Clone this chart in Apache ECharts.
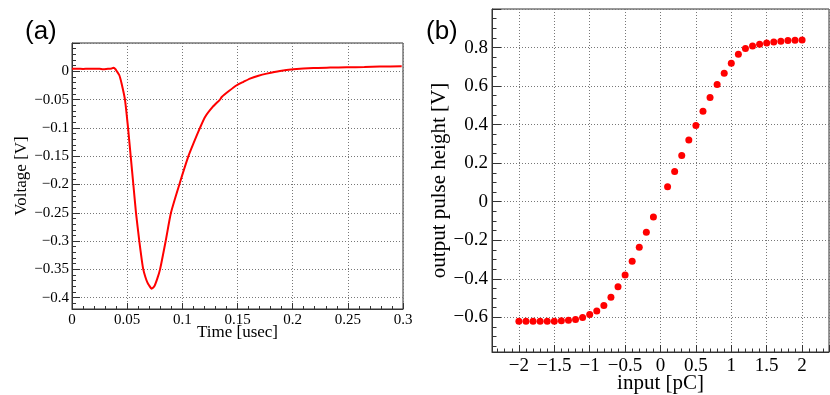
<!DOCTYPE html>
<html>
<head>
<meta charset="utf-8">
<script src="https://cdn.jsdelivr.net/npm/echarts@6/dist/echarts.min.js"></script>
<style>
  html, body { margin: 0; padding: 0; background: #fff; }
  #chart { width: 830px; height: 395px; }
</style>
</head>
<body>
<div id="chart"></div>
<script>
// (a) pulse waveform
const timeUs = [
  0, 0.005, 0.01, 0.015, 0.02, 0.025, 0.028, 0.031, 0.034, 0.036, 0.0375, 0.039,
  0.0405, 0.0429, 0.045, 0.048, 0.0508, 0.0532, 0.0556, 0.058, 0.061, 0.0632, 0.0646,
  0.0665, 0.0683, 0.0698, 0.0722, 0.0746, 0.0773, 0.0798, 0.0849, 0.0897, 0.0973,
  0.1055, 0.110, 0.116, 0.1206, 0.1275, 0.1341, 0.1357, 0.1425, 0.1493, 0.1555,
  0.1613, 0.169, 0.1765, 0.1885, 0.2006, 0.2187, 0.234, 0.249, 0.265, 0.279, 0.2988
];
const voltage = [
  0.0045, 0.0046, 0.0042, 0.0047, 0.0044, 0.0046, 0.0038, 0.0041, 0.0046, 0.0048, 0.0062, 0.0045,
  0.0005, -0.007, -0.022, -0.05, -0.1, -0.15, -0.2, -0.25, -0.3, -0.3327, -0.35,
  -0.3634, -0.373, -0.378, -0.384, -0.380, -0.3664, -0.35, -0.3, -0.25, -0.2,
  -0.15, -0.1278, -0.1, -0.0807, -0.063, -0.05, -0.0454, -0.0345, -0.0247, -0.0185,
  -0.0129, -0.0078, -0.0041, 0.0006, 0.0035, 0.0059, 0.0065, 0.007, 0.0076, 0.0083, 0.0089
];

// (b) output pulse height vs input charge
const inputPC = [
  -2, -1.9, -1.8, -1.7, -1.6, -1.5, -1.4, -1.3, -1.2, -1.1,
  -1, -0.9, -0.8, -0.7, -0.6, -0.5, -0.4, -0.3, -0.2, -0.1,
  0.1, 0.2, 0.3, 0.4, 0.5, 0.6, 0.7, 0.8, 0.9, 1,
  1.1, 1.2, 1.3, 1.4, 1.5, 1.6, 1.7, 1.8, 1.9, 2
];
const pulseHeight = [
  -0.620, -0.620, -0.620, -0.620, -0.620, -0.620, -0.618, -0.615, -0.611, -0.601,
  -0.585, -0.567, -0.539, -0.496, -0.442, -0.380, -0.309, -0.237, -0.159, -0.079,
  0.078, 0.157, 0.240, 0.320, 0.396, 0.470, 0.541, 0.608, 0.667, 0.719,
  0.765, 0.795, 0.808, 0.817, 0.824, 0.829, 0.832, 0.836, 0.838, 0.839
];

const serif = 'Liberation Serif';
const minus = v => String(v).replace('-', '\u2212');

function axisStyle(fontSize, margin, tickLen, minorSplit) {
  return {
    axisLine: { show: true, onZero: false, lineStyle: { color: '#333', width: 1 } },
    axisTick: { show: true, inside: true, length: tickLen, lineStyle: { color: '#333' } },
    minorTick: { show: true, splitNumber: minorSplit, length: tickLen / 2, lineStyle: { color: '#333' } },
    splitLine: { show: true, lineStyle: { color: '#777', type: [1, 2], width: 1 } },
    axisLabel: { color: '#000', fontFamily: serif, fontSize: fontSize, margin: margin, formatter: minus }
  };
}

const chart = echarts.init(document.getElementById('chart'), null, { renderer: 'canvas' });

const xa = axisStyle(15, 4, 6, 5);
const ya = axisStyle(15, 3, 8, 5);
const xb = axisStyle(19, 5, 7, 5);
const yb = axisStyle(19, 4, 9, 4);

chart.setOption({
  animation: false,
  backgroundColor: '#fff',
  title: [
    { text: '(a)', left: 20, top: 14, textStyle: { fontFamily: 'Liberation Sans', fontWeight: 'normal', fontSize: 26, color: '#000' } },
    { text: '(b)', left: 421, top: 14, textStyle: { fontFamily: 'Liberation Sans', fontWeight: 'normal', fontSize: 26, color: '#000' } }
  ],
  grid: [
    { left: 72, top: 43, width: 331, height: 266, show: true, borderColor: '#333', borderWidth: 1, outerBoundsMode: 'none' },
    { left: 492, top: 9, width: 337, height: 343, show: true, borderColor: '#333', borderWidth: 1, outerBoundsMode: 'none' }
  ],
  xAxis: [
    Object.assign({}, xa, {
      gridIndex: 0, type: 'value', min: 0, max: 0.3, interval: 0.05,
      name: 'Time [usec]', nameLocation: 'middle', nameGap: 15, nameMoveOverlap: false,
      nameTextStyle: { fontFamily: serif, fontSize: 17, color: '#000' }
    }),
    Object.assign({}, xb, {
      gridIndex: 1, type: 'value', min: -2.38, max: 2.38, splitNumber: 10,
      axisLabel: Object.assign({}, xb.axisLabel, { showMinLabel: false, showMaxLabel: false }),
      name: 'input [pC]', nameLocation: 'middle', nameGap: 21, nameMoveOverlap: false,
      nameTextStyle: { fontFamily: serif, fontSize: 21, color: '#000' }
    })
  ],
  yAxis: [
    Object.assign({}, ya, {
      gridIndex: 0, type: 'value', min: -0.42, max: 0.05, splitNumber: 10,
      axisLabel: Object.assign({}, ya.axisLabel, { showMinLabel: false, showMaxLabel: false }),
      name: 'Voltage [V]', nameLocation: 'middle', nameGap: 42,
      nameTextStyle: { fontFamily: serif, fontSize: 17, color: '#000' }
    }),
    Object.assign({}, yb, {
      gridIndex: 1, type: 'value', min: -0.78, max: 1.0, splitNumber: 9,
      axisLabel: Object.assign({}, yb.axisLabel, { showMinLabel: false, showMaxLabel: false }),
      name: 'output pulse height [V]', nameLocation: 'middle', nameGap: 41,
      nameTextStyle: { fontFamily: serif, fontSize: 21, color: '#000' }
    })
  ],
  series: [
    {
      type: 'line', xAxisIndex: 0, yAxisIndex: 0,
      data: timeUs.map((t, i) => [t, voltage[i]]),
      showSymbol: false, smooth: 0.2,
      lineStyle: { color: '#ff0000', width: 2 }
    },
    {
      type: 'scatter', xAxisIndex: 1, yAxisIndex: 1,
      data: inputPC.map((q, i) => [q, pulseHeight[i]]),
      symbol: 'circle', symbolSize: 7,
      itemStyle: { color: '#ff0000', opacity: 1 }
    }
  ]
});
</script>
</body>
</html>
